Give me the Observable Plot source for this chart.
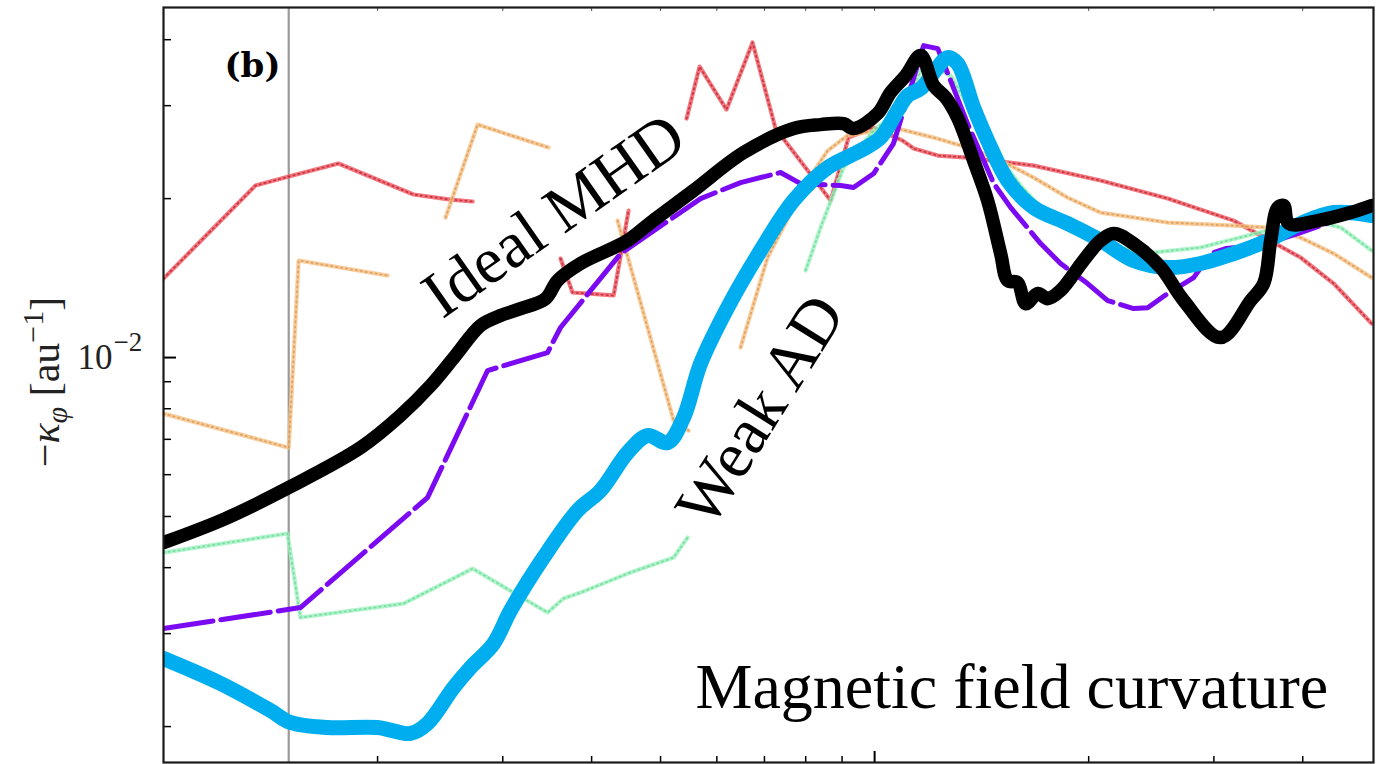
<!DOCTYPE html>
<html>
<head>
<meta charset="utf-8">
<script src="https://cdn.jsdelivr.net/npm/d3@7"></script>
<script src="https://cdn.jsdelivr.net/npm/@observablehq/plot@0.6"></script>
<style>
  html, body { margin: 0; padding: 0; background: #fff; }
</style>
</head>
<body>
<div id="chart"></div>
<script>
// ---- data (radius in au, -kappa_phi in au^-1); null = line hidden behind a label ----
const redX = [10, 13.47, 15.0, 17.62, 22.47, 25.33, 27.21, 31, 36.17, 37.6, 42.96, 45.08, 50, 54.4, 56.74, 61.91, 67.35, 72.56, 86.73, 91.9, 99.7, 109.5, 113.5, 122.7, 135.1, 167.4, 207.9, 258.3, 319.8, 397.2, 442.2, 500];
const redY = [0.01411, 0.02117, 0.02202, 0.02331, 0.02036, 0.01992, 0.01975, null, 0.01540, 0.01328, 0.01311, 0.01898, null, 0.02836, 0.03557, 0.02949, 0.03951, 0.02715, 0.01983, 0.02610, 0.02727, 0.02576, 0.02488, 0.02413, 0.02392, 0.02310, 0.02164, 0.02001, 0.01817, 0.01547, 0.01381, 0.01160];

const orangeX = [10, 15.0, 15.49, 20.66, 23, 24.93, 27.65, 34.79, 39, 43.51, 52.16, 54.75, 60, 64.8, 70.7, 80.5, 85.9, 91.6, 106.3, 121.1, 135.1, 150.4, 167.4, 186.8, 207.9, 258.3, 319.8, 357.1, 397.2, 442.2, 500];
const orangeY = [0.00783, 0.00675, 0.01527, 0.01430, null, 0.01842, 0.02762, 0.02499, null, 0.01817, 0.00760, 0.00727, null, 0.01045, 0.01547, 0.02164, 0.02466, 0.02633, 0.02727, 0.02610, 0.02499, 0.02361, 0.02192, 0.02009, 0.01882, 0.01802, 0.01778, 0.01763, 0.01687, 0.01574, 0.01417];

const greenX = [10, 14.94, 15.58, 21.75, 27.21, 34.68, 36.52, 38.59, 44.94, 52.16, 54.58, 65, 79.98, 83.96, 90.44, 99.7, 108.8, 117.9, 127.9, 136.5, 147.1, 160.5, 172.9, 214.7, 238.9, 287.3, 357.1, 414.3, 452.3, 500];
const greenY = [0.004272, 0.004642, 0.003218, 0.003420, 0.003984, 0.003289, 0.003496, 0.003588, 0.003898, 0.004180, 0.004561, null, 0.01462, 0.01763, 0.02290, 0.02692, 0.02962, 0.03620, 0.03420, 0.02937, 0.02466, 0.02117, 0.01898, 0.01630, 0.01574, 0.01616, 0.01740, 0.01817, 0.01763, 0.01595];

const purpleX = [10, 15.58, 23.51, 28.56, 34.68, 36.17, 43.94, 56.92, 64.8, 73.75, 78.7, 89.6, 93.4, 99.7, 106.3, 112.4, 117.2, 122.7, 127.9, 135.1, 147.1, 155.4, 171.2, 182.6, 199.3, 212.7, 231.3, 242.1, 258.3, 281, 296.9, 311.7, 349.1, 397.2, 452.3, 482.6];
const purpleY = [0.003067, 0.003361, 0.005430, 0.009449, 0.01022, 0.01140, 0.01574, 0.02000, 0.02145, 0.02241, 0.02135, 0.02117, 0.02099, 0.02231, 0.02543, 0.03246, 0.03898, 0.03847, 0.03346, 0.02774, 0.02135, 0.01923, 0.01644, 0.01507, 0.01381, 0.01282, 0.01238, 0.01243, 0.01322, 0.01417, 0.01574, 0.01609, 0.01630, 0.01725, 0.01833, 0.01882];

const idealX = [10, 12.22, 15.0, 18.93, 21.54, 23.75, 25.75, 27.92, 29.78, 31.78, 34.45, 35.82, 38.59, 44.94, 48.42, 55.65, 65.44, 76.92, 83.96, 90.44, 93.4, 100.97, 105.3, 110.6, 116.1, 121.1, 125.9, 130.8, 137.8, 144.2, 150.4, 153.9, 158.9, 163.1, 169.6, 175.1, 182.6, 196.7, 207.9, 216.8, 231.3, 252.6, 272.1, 306.6, 337.9, 352.5, 360.6, 368.9, 376.1, 382.3, 420, 467.1, 500];
const idealY = [0.004462, 0.004955, 0.005673, 0.006750, 0.007765, 0.008850, 0.01009, 0.01150, 0.01201, 0.01238, 0.01293, 0.01399, 0.01507, 0.01666, 0.01802, 0.02072, 0.02445, 0.02715, 0.02762, 0.02774, 0.02715, 0.02898, 0.03176, 0.03420, 0.03733, 0.03274, 0.03107, 0.02848, 0.02361, 0.01983, 0.01574, 0.01399, 0.01387, 0.01265, 0.01322, 0.01293, 0.01339, 0.01527, 0.01666, 0.01718, 0.01644, 0.01481, 0.01282, 0.01091, 0.01282, 0.01381, 0.01666, 0.01923, 0.01941, 0.01794, 0.01817, 0.01882, 0.01941];

const weakX = [10, 12.03, 14.14, 15.09, 17.01, 20, 22.25, 23.51, 25.58, 27.03, 29.12, 30.76, 34.23, 38.22, 41.17, 44.94, 47.94, 51.16, 53.87, 56.92, 62.11, 69.13, 76.92, 85.9, 95.57, 101.96, 107.7, 111.3, 116.1, 121.1, 126.7, 130.8, 137.8, 144.2, 153.9, 167.4, 186.8, 207.9, 231.3, 258.3, 287.3, 319.8, 357.1, 397.2, 442.2, 500];
const weakY = [0.002691, 0.002413, 0.002145, 0.002036, 0.001992, 0.001992, 0.001941, 0.002027, 0.002371, 0.002588, 0.002873, 0.003318, 0.004180, 0.005131, 0.005600, 0.006606, 0.007115, 0.006902, 0.007697, 0.009741, 0.01243, 0.01595, 0.01983, 0.02290, 0.02466, 0.02610, 0.02937, 0.03135, 0.03232, 0.03466, 0.03700, 0.03604, 0.02975, 0.02576, 0.02164, 0.01923, 0.01794, 0.01666, 0.01527, 0.01481, 0.01507, 0.01574, 0.01666, 0.01794, 0.01882, 0.01858];

const refRadius = [15];
const yMajorTicks = [0.01];
const yMinorTicks = [0.002, 0.003, 0.004, 0.005, 0.006, 0.007, 0.008, 0.009, 0.02, 0.03, 0.04];
const xMajorTicks = [100];
const xMinorTicks = [20, 30, 40, 50, 60, 70, 80, 90, 200, 300, 400];

const annText = ["Ideal MHD", "Weak AD"];
const annX = [35.4, 69.1];
const annY = [0.01858, 0.00794];
const annRotate = [-35, -58];

const panelLabel = "(b)";
const titleText = "Magnetic field curvature";

// ---- build ----
const rows = (xs, ys) => xs.map((x, i) => ({x, y: ys[i]}));
const red = rows(redX, redY), orange = rows(orangeX, orangeY), green = rows(greenX, greenY);
const purple = rows(purpleX, purpleY), ideal = rows(idealX, idealY), weak = rows(weakX, weakY);
const ann = annText.map((t, i) => ({t, x: annX[i], y: annY[i], r: annRotate[i]}));

const serif = "'Liberation Serif', 'Times New Roman', serif";

function dotted(data, base, dots) {
  return [
    Plot.line(data, {x: "x", y: "y", stroke: base, strokeWidth: 4.2, strokeOpacity: 0.8, clip: true}),
    Plot.line(data, {x: "x", y: "y", stroke: dots, strokeWidth: 1.8, strokeOpacity: 0.6, strokeDasharray: "1.4,3.6", clip: true})
  ];
}

const chart = Plot.plot({
  width: 1397,
  height: 764,
  marginLeft: 163,
  marginRight: 24,
  marginTop: 7,
  marginBottom: 2,
  x: {type: "log", domain: [10, 503]},
  y: {type: "log", domain: [0.00171, 0.04603]},
  style: {background: "white", fontFamily: serif, overflow: "visible"},
  marks: [
    Plot.ruleX(refRadius, {stroke: "#9a9a9a", strokeWidth: 2.2}),
    ...dotted(red, "#f2545e", "#a3101e"),
    ...dotted(orange, "#f8c184", "#c88840"),
    ...dotted(green, "#9df3bf", "#5ccb88"),
    Plot.line(purple, {x: "x", y: "y", stroke: "#7b0af2", strokeWidth: 5, strokeDasharray: "50,8", clip: true}),
    Plot.line(weak, {x: "x", y: "y", stroke: "#00aeef", strokeWidth: 15, curve: "catmull-rom", strokeLinejoin: "round", clip: true}),
    Plot.line(ideal, {x: "x", y: "y", stroke: "#000000", strokeWidth: 13.5, curve: "catmull-rom", strokeLinejoin: "round", clip: true}),
    // inward ticks
    Plot.axisY({ticks: yMinorTicks, anchor: "right", frameAnchor: "left", tickSize: 7, tickFormat: () => "", label: null, strokeWidth: 1.5}),
    Plot.axisY({ticks: yMajorTicks, anchor: "right", frameAnchor: "left", tickSize: 12, tickFormat: () => "", label: null, strokeWidth: 2}),
    Plot.axisX({ticks: xMinorTicks, anchor: "top", frameAnchor: "bottom", tickSize: 7, tickFormat: () => "", label: null, strokeWidth: 1.5}),
    Plot.axisX({ticks: xMajorTicks, anchor: "top", frameAnchor: "bottom", tickSize: 12, tickFormat: () => "", label: null, strokeWidth: 2}),
    Plot.axisX({ticks: xMinorTicks.concat(xMajorTicks), anchor: "bottom", frameAnchor: "top", tickSize: 4, tickFormat: () => "", label: null, strokeWidth: 1, stroke: "#555"}),
    Plot.frame({stroke: "#1a1a1a", strokeWidth: 2.2}),
    // tick label 10^-2
    Plot.text(yMajorTicks, {y: d => d, frameAnchor: "left", text: () => "10", textAnchor: "end", dx: -51, fontSize: 35, fill: "#222"}),
    Plot.text(yMajorTicks, {y: d => d, frameAnchor: "left", text: () => "−2", textAnchor: "start", dx: -50, dy: -15, fontSize: 27, fill: "#222"}),
    // annotations
    Plot.text(ann, {x: "x", y: "y", text: "t", rotate: "r", fontSize: 66, fill: "#000", textAnchor: "middle", lineAnchor: "middle"}),
    Plot.text([titleText], {x: () => 56, y: () => 0.002173, text: d => d, textAnchor: "start", lineAnchor: "bottom", fontSize: 64}),
    Plot.text([panelLabel], {frameAnchor: "top-left", text: d => d, dx: 89, dy: 59, textAnchor: "middle", lineAnchor: "middle", fontSize: 34, fontWeight: "bold", fontFamily: "'DejaVu Serif', serif"})
  ]
});

document.getElementById("chart").appendChild(chart);

// y-axis label with italic kappa, subscript phi and superscript -1
const svg = d3.select(chart);
const lab = svg.append("text")
  .attr("transform", "translate(59,382) rotate(-90)")
  .attr("text-anchor", "middle")
  .attr("font-size", 42)
  .attr("font-family", serif)
  .attr("fill", "#222");
lab.append("tspan").text("−");
lab.append("tspan").attr("font-style", "italic").text("κ");
lab.append("tspan").attr("font-style", "italic").attr("font-size", 30).attr("dy", 8).text("φ");
lab.append("tspan").attr("dy", -8).text(" [au");
lab.append("tspan").attr("font-size", 30).attr("dy", -16).text("−1");
lab.append("tspan").attr("dy", 16).text("]");
</script>
</body>
</html>
